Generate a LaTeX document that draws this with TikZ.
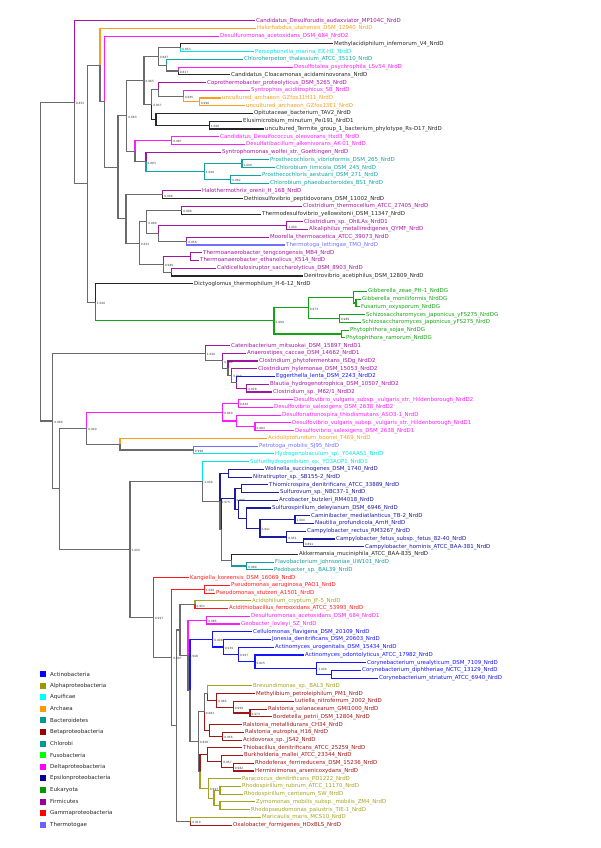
\documentclass[tikz,border=0pt]{standalone}
\usepackage{fontspec}
\setmainfont{DejaVu Sans}
\usetikzlibrary{calc}
\definecolor{cac}{HTML}{1414FF}
\definecolor{cal}{HTML}{A3A320}
\definecolor{caq}{HTML}{00E6E6}
\definecolor{car}{HTML}{FF9C1A}
\definecolor{cba}{HTML}{129C9C}
\definecolor{cbe}{HTML}{A31414}
\definecolor{cch}{HTML}{12A3A3}
\definecolor{cde}{HTML}{FF1AFF}
\definecolor{cep}{HTML}{1A1AA3}
\definecolor{ceu}{HTML}{14A314}
\definecolor{cfi}{HTML}{A314A3}
\definecolor{cga}{HTML}{FF1A1A}
\definecolor{cth}{HTML}{7070FF}
\definecolor{cbk}{HTML}{262626}
\definecolor{cmx}{HTML}{6A6A6A}
\tikzset{
  lbl/.style={anchor=west,inner xsep=1.5pt,inner ysep=0pt,font=\fontsize{5.45}{6}\selectfont},
  br/.style={line width=1.1pt,line cap=rect},
  bsl/.style={anchor=west,inner sep=0pt,font=\fontsize{2.9}{3}\selectfont,text=black!80},
  legsq/.style={minimum size=6pt,inner sep=0pt,draw=none},
  legtx/.style={anchor=west,inner sep=0pt,font=\fontsize{5.5}{6}\selectfont,text=black!85}
}
\newcommand\leafx[4]{%
  \coordinate (e#1) at ({#2-1.5},{20.7+(#1-1)*7.735});
  \node[lbl,text=#3] (l#1) at (e#1) {#4};}
\newcommand\tnode[6]{%
  \coordinate (m#1) at ($(#3)!0.5!(#4)$);
  \coordinate (x#1) at (#2,0);
  \coordinate (#1) at (x#1 |- m#1);
  \draw[br,#5] (#1) |- (#3);
  \draw[br,#6] (#1) |- (#4);}
\newcommand\bsv[2]{\node[bsl] at ([xshift=1.4pt,yshift=-1.3pt]#1) {#2};}
\begin{document}
\begin{tikzpicture}[x=1pt,y=-1pt]
\useasboundingbox (0,0) rectangle (600,848);
% leaves
\leafx{1}{256}{cfi}{Candidatus\_Desulforudis\_audaxviator\_MP104C\_NrdD}
\leafx{2}{257}{car}{Halorhabdus\_utahensis\_DSM\_12940\_NrdD}
\leafx{3}{220}{cde}{Desulfuromonas\_acetoxidans\_DSM\_684\_NrdD2}
\leafx{4}{334}{cbk}{Methylacidiphilum\_infernorum\_V4\_NrdD}
\leafx{5}{255}{caq}{Persephonella\_marina\_EX-H1\_NrdD}
\leafx{6}{244}{cch}{Chloroherpeton\_thalassium\_ATCC\_35110\_NrdD}
\leafx{7}{294}{cde}{Desulfotalea\_psychrophila\_LSv54\_NrdD}
\leafx{8}{231}{cbk}{Candidatus\_Cloacamonas\_acidaminovorans\_NrdD}
\leafx{9}{207}{cfi}{Coprothermobacter\_proteolyticus\_DSM\_5265\_NrdD}
\leafx{10}{251}{cde}{Syntrophus\_aciditrophicus\_SB\_NrdD}
\leafx{11}{222}{car}{uncultured\_archaeon\_GZfos11H11\_NrdD}
\leafx{12}{246}{car}{uncultured\_archaeon\_GZfos13E1\_NrdD}
\leafx{13}{254}{cbk}{Opitutaceae\_bacterium\_TAV2\_NrdD}
\leafx{14}{243}{cbk}{Elusimicrobium\_minutum\_Pei191\_NrdD1}
\leafx{15}{265}{cbk}{uncultured\_Termite\_group\_1\_bacterium\_phylotype\_Rs-D17\_NrdD}
\leafx{16}{220}{cde}{Candidatus\_Desulfococcus\_oleovorans\_Hxd3\_NrdD}
\leafx{17}{246}{cde}{Desulfatibacillum\_alkenivorans\_AK-01\_NrdD}
\leafx{18}{222}{cfi}{Syntrophomonas\_wolfei\_str.\_Goettingen\_NrdD}
\leafx{19}{270}{cch}{Prosthecochloris\_vibrioformis\_DSM\_265\_NrdD}
\leafx{20}{276}{cch}{Chlorobium\_limicola\_DSM\_245\_NrdD}
\leafx{21}{262}{cch}{Prosthecochloris\_aestuarii\_DSM\_271\_NrdD}
\leafx{22}{270}{cch}{Chlorobium\_phaeobacteroides\_BS1\_NrdD}
\leafx{23}{202}{cfi}{Halothermothrix\_orenii\_H\_168\_NrdD}
\leafx{24}{244}{cbk}{Dethiosulfovibrio\_peptidovorans\_DSM\_11002\_NrdD}
\leafx{25}{303}{cfi}{Clostridium\_thermocellum\_ATCC\_27405\_NrdD}
\leafx{26}{262}{cbk}{Thermodesulfovibrio\_yellowstonii\_DSM\_11347\_NrdD}
\leafx{27}{304}{cfi}{Clostridium\_sp.\_OhILAs\_NrdD1}
\leafx{28}{309}{cfi}{Alkaliphilus\_metalliredigenes\_QYMF\_NrdD}
\leafx{29}{270}{cfi}{Moorella\_thermoacetica\_ATCC\_39073\_NrdD}
\leafx{30}{286}{cth}{Thermotoga\_lettingae\_TMO\_NrdD}
\leafx{31}{203}{cfi}{Thermoanaerobacter\_tengcongensis\_MB4\_NrdD}
\leafx{32}{200}{cfi}{Thermoanaerobacter\_ethanolicus\_X514\_NrdD}
\leafx{33}{217}{cfi}{Caldicellulosiruptor\_saccharolyticus\_DSM\_8903\_NrdD}
\leafx{34}{304}{cbk}{Denitrovibrio\_acetiphilus\_DSM\_12809\_NrdD}
\leafx{35}{194}{cbk}{Dictyoglomus\_thermophilum\_H-6-12\_NrdD}
\leafx{36}{368}{ceu}{Gibberella\_zeae\_PH-1\_NrdDG}
\leafx{37}{362}{ceu}{Gibberella\_moniliformis\_NrdDG}
\leafx{38}{361}{ceu}{Fusarium\_oxysporum\_NrdDG}
\leafx{39}{366}{ceu}{Schizosaccharomyces\_japonicus\_yFS275\_NrdDG}
\leafx{40}{362}{ceu}{Schizosaccharomyces\_japonicus\_yFS275\_NrdD}
\leafx{41}{350}{ceu}{Phytophthora\_sojae\_NrdDG}
\leafx{42}{346}{ceu}{Phytophthora\_ramorum\_NrdDG}
\leafx{43}{231}{cfi}{Catenibacterium\_mitsuokai\_DSM\_15897\_NrdD1}
\leafx{44}{247}{cfi}{Anaerostipes\_caccae\_DSM\_14662\_NrdD1}
\leafx{45}{259}{cfi}{Clostridium\_phytofermentans\_ISDg\_NrdD2}
\leafx{46}{258}{cfi}{Clostridium\_hylemonae\_DSM\_15053\_NrdD2}
\leafx{47}{276}{cac}{Eggerthella\_lenta\_DSM\_2243\_NrdD2}
\leafx{48}{270}{cfi}{Blautia\_hydrogenotrophica\_DSM\_10507\_NrdD2}
\leafx{49}{273}{cfi}{Clostridium\_sp.\_M62/1\_NrdD2}
\leafx{50}{294}{cde}{Desulfovibrio\_vulgaris\_subsp.\_vulgaris\_str.\_Hildenborough\_NrdD2}
\leafx{51}{274}{cde}{Desulfovibrio\_salexigens\_DSM\_2638\_NrdD2}
\leafx{52}{282}{cde}{Desulfonatronospira\_thiodismutans\_ASO3-1\_NrdD}
\leafx{53}{292}{cde}{Desulfovibrio\_vulgaris\_subsp.\_vulgaris\_str.\_Hildenborough\_NrdD1}
\leafx{54}{295}{cde}{Desulfovibrio\_salexigens\_DSM\_2638\_NrdD1}
\leafx{55}{268}{car}{Aciduliprofundum\_boonei\_T469\_NrdD}
\leafx{56}{259}{cth}{Petrotoga\_mobilis\_SJ95\_NrdD}
\leafx{57}{275}{caq}{Hydrogenobaculum\_sp.\_Y04AAS1\_NrdD}
\leafx{58}{250}{caq}{Sulfurihydrogenibium\_sp.\_YO3AOP1\_NrdD1}
\leafx{59}{265}{cep}{Wolinella\_succinogenes\_DSM\_1740\_NrdD}
\leafx{60}{253}{cep}{Nitratiruptor\_sp.\_SB155-2\_NrdD}
\leafx{61}{269}{cep}{Thiomicrospira\_denitrificans\_ATCC\_33889\_NrdD}
\leafx{62}{280}{cep}{Sulfurovum\_sp.\_NBC37-1\_NrdD}
\leafx{63}{279}{cep}{Arcobacter\_butzleri\_RM4018\_NrdD}
\leafx{64}{272}{cep}{Sulfurospirillum\_deleyianum\_DSM\_6946\_NrdD}
\leafx{65}{311}{cep}{Caminibacter\_mediatlanticus\_TB-2\_NrdD}
\leafx{66}{315}{cep}{Nautilia\_profundicola\_AmH\_NrdD}
\leafx{67}{307}{cep}{Campylobacter\_rectus\_RM3267\_NrdD}
\leafx{68}{336}{cep}{Campylobacter\_fetus\_subsp.\_fetus\_82-40\_NrdD}
\leafx{69}{365}{cep}{Campylobacter\_hominis\_ATCC\_BAA-381\_NrdD}
\leafx{70}{299}{cbk}{Akkermansia\_muciniphila\_ATCC\_BAA-835\_NrdD}
\leafx{71}{275}{cba}{Flavobacterium\_johnsoniae\_UW101\_NrdD}
\leafx{72}{274}{cba}{Pedobacter\_sp.\_BAL39\_NrdD}
\leafx{73}{190}{cga}{Kangiella\_koreensis\_DSM\_16069\_NrdD}
\leafx{74}{231}{cga}{Pseudomonas\_aeruginosa\_PAO1\_NrdD}
\leafx{75}{216}{cga}{Pseudomonas\_stutzeri\_A1501\_NrdD}
\leafx{76}{252}{cal}{Acidiphilium\_cryptum\_JF-5\_NrdD}
\leafx{77}{229}{cga}{Acidithiobacillus\_ferrooxidans\_ATCC\_53993\_NrdD}
\leafx{78}{251}{cde}{Desulfuromonas\_acetoxidans\_DSM\_684\_NrdD1}
\leafx{79}{241}{cde}{Geobacter\_lovleyi\_SZ\_NrdD}
\leafx{80}{253}{cac}{Cellulomonas\_flavigena\_DSM\_20109\_NrdD}
\leafx{81}{272}{cac}{Jonesia\_denitrificans\_DSM\_20603\_NrdD}
\leafx{82}{275}{cac}{Actinomyces\_urogenitalis\_DSM\_15434\_NrdD}
\leafx{83}{305}{cac}{Actinomyces\_odontolyticus\_ATCC\_17982\_NrdD}
\leafx{84}{367}{cac}{Corynebacterium\_urealyticum\_DSM\_7109\_NrdD}
\leafx{85}{362}{cac}{Corynebacterium\_diphtheriae\_NCTC\_13129\_NrdD}
\leafx{86}{379}{cac}{Corynebacterium\_striatum\_ATCC\_6940\_NrdD}
\leafx{87}{253}{cal}{Brevundimonas\_sp.\_BAL3\_NrdD}
\leafx{88}{256}{cbe}{Methylibium\_petroleiphilum\_PM1\_NrdD}
\leafx{89}{295}{cbe}{Lutiella\_nitroferrum\_2002\_NrdD}
\leafx{90}{268}{cbe}{Ralstonia\_solanacearum\_GMI1000\_NrdD}
\leafx{91}{273}{cbe}{Bordetella\_petrii\_DSM\_12804\_NrdD}
\leafx{92}{243}{cbe}{Ralstonia\_metallidurans\_CH34\_NrdD}
\leafx{93}{245}{cbe}{Ralstonia\_eutropha\_H16\_NrdD}
\leafx{94}{243}{cbe}{Acidovorax\_sp.\_JS42\_NrdD}
\leafx{95}{243}{cbe}{Thiobacillus\_denitrificans\_ATCC\_25259\_NrdD}
\leafx{96}{244}{cbe}{Burkholderia\_mallei\_ATCC\_23344\_NrdD}
\leafx{97}{255}{cbe}{Rhodoferax\_ferrireducens\_DSM\_15236\_NrdD}
\leafx{98}{255}{cbe}{Herminiimonas\_arsenicoxydans\_NrdD}
\leafx{99}{242}{cal}{Paracoccus\_denitrificans\_PD1222\_NrdD}
\leafx{100}{242}{cal}{Rhodospirillum\_rubrum\_ATCC\_11170\_NrdD}
\leafx{101}{244}{cal}{Rhodospirillum\_centenum\_SW\_NrdD}
\leafx{102}{256}{cal}{Zymomonas\_mobilis\_subsp.\_mobilis\_ZM4\_NrdD}
\leafx{103}{251}{cal}{Rhodopseudomonas\_palustris\_TIE-1\_NrdD}
\leafx{104}{262}{cal}{Maricaulis\_maris\_MCS10\_NrdD}
\leafx{105}{233}{cbe}{Oxalobacter\_formigenes\_HOxBLS\_NrdD}
% internal nodes: name, x, child1, child2, colour1, colour2
\tnode{n1}{180.7}{e4}{e5}{cbk}{caq}
\tnode{n2}{178.3}{e7}{e8}{cde}{cbk}
\tnode{n3}{166.7}{e6}{n2}{cch}{cmx}
\tnode{n4}{158.3}{n1}{n3}{cmx}{cmx}
\tnode{n5}{199.3}{e11}{e12}{car}{car}
\tnode{n6}{183.3}{e10}{n5}{cde}{car}
\tnode{n7}{158.3}{e9}{n6}{cfi}{cmx}
\tnode{n8}{209.3}{e14}{e15}{cbk}{cbk}
\tnode{n9}{156}{e13}{n8}{cbk}{cbk}
\tnode{n10}{151.7}{n7}{n9}{cmx}{cbk}
\tnode{n11}{144}{n4}{n10}{cmx}{cmx}
\tnode{n12}{171.7}{e16}{e17}{cde}{cde}
\tnode{n13}{242}{e19}{e20}{cch}{cch}
\tnode{n14}{230.7}{e21}{e22}{cch}{cch}
\tnode{n15}{204.3}{n13}{n14}{cch}{cch}
\tnode{n16}{146}{e18}{n15}{cfi}{cch}
\tnode{n17}{135}{n12}{n16}{cde}{cmx}
\tnode{n18}{126.7}{n11}{n17}{cmx}{cmx}
\tnode{n19}{162.7}{e23}{e24}{cfi}{cbk}
\tnode{n20}{181.7}{e25}{e26}{cfi}{cbk}
\tnode{n21}{286.7}{e27}{e28}{cfi}{cfi}
\tnode{n22}{186.7}{e29}{e30}{cfi}{cth}
\tnode{n23}{158.3}{n21}{n22}{cfi}{cmx}
\tnode{n24}{146.7}{n20}{n23}{cmx}{cmx}
\tnode{n25}{190.7}{e31}{e32}{cfi}{cfi}
\tnode{n26}{171.7}{e33}{e34}{cfi}{cbk}
\tnode{n27}{163.3}{n25}{n26}{cfi}{cmx}
\tnode{n28}{139.3}{n24}{n27}{cmx}{cmx}
\tnode{n29}{126}{n19}{n28}{cmx}{cmx}
\tnode{n30}{118}{n18}{n29}{cmx}{cmx}
\tnode{n31}{104.3}{e3}{n30}{cde}{cmx}
\tnode{n32}{100}{e2}{n31}{car}{cmx}
\tnode{n33}{356}{e37}{e38}{ceu}{ceu}
\tnode{n34}{353.3}{e36}{n33}{ceu}{ceu}
\tnode{n35}{339.3}{e39}{e40}{ceu}{ceu}
\tnode{n36}{308.3}{n34}{n35}{ceu}{ceu}
\tnode{n37}{341.7}{e41}{e42}{ceu}{ceu}
\tnode{n38}{274}{n36}{n37}{ceu}{ceu}
\tnode{n39}{95.3}{e35}{n38}{cbk}{ceu}
\tnode{n40}{87.7}{n32}{n39}{cmx}{cmx}
\tnode{n41}{74.3}{e1}{n40}{cfi}{cmx}
\tnode{n42}{246.7}{e48}{e49}{cfi}{cfi}
\tnode{n43}{236.7}{e47}{n42}{cac}{cfi}
\tnode{n44}{231.7}{e46}{n43}{cfi}{cmx}
\tnode{n45}{228}{e45}{n44}{cfi}{cmx}
\tnode{n46}{222.7}{e44}{n45}{cfi}{cmx}
\tnode{n47}{205.3}{e43}{n46}{cfi}{cmx}
\tnode{n48}{238.3}{e50}{e51}{cde}{cde}
\tnode{n49}{255}{e53}{e54}{cde}{cde}
\tnode{n50}{236.7}{e52}{n49}{cde}{cde}
\tnode{n51}{222.7}{n48}{n50}{cde}{cde}
\tnode{n52}{193.3}{e56}{e57}{cth}{caq}
\tnode{n53}{120}{e55}{n52}{car}{cmx}
\tnode{n54}{86.7}{n51}{n53}{cde}{cmx}
\tnode{n55}{228.3}{e59}{e60}{cep}{cep}
\tnode{n56}{241.7}{e61}{e62}{cep}{cep}
\tnode{n57}{295}{e65}{e66}{cep}{cep}
\tnode{n58}{303.3}{e68}{e69}{cep}{cep}
\tnode{n59}{286.7}{e67}{n58}{cep}{cep}
\tnode{n60}{260}{n57}{n59}{cep}{cep}
\tnode{n61}{246.7}{e64}{n60}{cep}{cep}
\tnode{n62}{238.3}{e63}{n61}{cep}{cep}
\tnode{n63}{235}{n56}{n62}{cep}{cep}
\tnode{n64}{246.7}{e71}{e72}{cba}{cba}
\tnode{n65}{231.7}{e70}{n64}{cbk}{cba}
\tnode{n66}{221.7}{n63}{n65}{cep}{cmx}
\tnode{n67}{220}{n55}{n66}{cep}{cmx}
\tnode{n68}{202.7}{e58}{n67}{caq}{cmx}
\tnode{n69}{204.3}{e74}{e75}{cga}{cga}
\tnode{n70}{195}{e76}{e77}{cal}{cga}
\tnode{n71}{206.7}{e78}{e79}{cde}{cde}
\tnode{n72}{331.7}{e85}{e86}{cac}{cac}
\tnode{n73}{316.7}{e84}{n72}{cac}{cac}
\tnode{n74}{255}{e83}{n73}{cac}{cac}
\tnode{n75}{238.3}{e82}{n74}{cac}{cac}
\tnode{n76}{223.3}{e81}{n75}{cac}{cac}
\tnode{n77}{212.7}{e80}{n76}{cac}{cac}
\tnode{n78}{250}{e90}{e91}{cbe}{cbe}
\tnode{n79}{233.3}{e89}{n78}{cbe}{cbe}
\tnode{n80}{216.7}{e88}{n79}{cbe}{cbe}
\tnode{n81}{207.3}{e87}{n80}{cal}{cbe}
\tnode{n82}{222.7}{e93}{e94}{cbe}{cbe}
\tnode{n83}{209.3}{e92}{n82}{cbe}{cbe}
\tnode{n84}{204.3}{n81}{n83}{cmx}{cbe}
\tnode{n85}{233.3}{e97}{e98}{cbe}{cbe}
\tnode{n86}{221.7}{e96}{n85}{cbe}{cbe}
\tnode{n87}{207.3}{e95}{n86}{cbe}{cbe}
\tnode{n88}{220}{e100}{e101}{cal}{cal}
\tnode{n89}{220}{e102}{e103}{cal}{cal}
\tnode{n90}{214}{n88}{n89}{cal}{cal}
\tnode{n91}{208.3}{e99}{n90}{cal}{cal}
\tnode{n92}{200}{n87}{n91}{cbe}{cal}
\tnode{n93}{198.3}{n84}{n92}{cmx}{cmx}
\tnode{n94}{190}{n77}{n93}{cac}{cmx}
\tnode{n95}{188}{n71}{n94}{cde}{cmx}
\tnode{n96}{180}{n70}{n95}{cmx}{cmx}
\tnode{n97}{190.7}{e104}{e105}{cal}{cbe}
\tnode{n98}{176.7}{n96}{n97}{cmx}{cmx}
\tnode{n99}{171.7}{n69}{n98}{cga}{cmx}
\tnode{n100}{153.3}{e73}{n99}{cga}{cmx}
\tnode{n101}{130}{n68}{n100}{cmx}{cmx}
\tnode{n102}{59.3}{n54}{n101}{cmx}{cmx}
\tnode{n103}{52.7}{n47}{n102}{cmx}{cmx}
\tnode{root}{40.7}{n41}{n103}{cmx}{cmx}
% support values
\bsv{n1}{0.853}\bsv{n2}{0.817}\bsv{n4}{0.887}\bsv{n5}{0.990}\bsv{n6}{0.985}
\bsv{n8}{1.000}\bsv{n10}{0.857}\bsv{n11}{0.965}\bsv{n12}{0.987}\bsv{n13}{1.000}
\bsv{n14}{0.982}\bsv{n15}{1.000}\bsv{n16}{0.883}\bsv{n18}{0.683}\bsv{n19}{0.996}
\bsv{n20}{0.996}\bsv{n21}{1.000}\bsv{n22}{0.956}\bsv{n24}{0.880}\bsv{n27}{0.989}
\bsv{n28}{0.653}\bsv{n35}{0.989}\bsv{n36}{0.973}\bsv{n38}{0.999}\bsv{n39}{1.000}
\bsv{n41}{0.852}\bsv{n42}{0.828}\bsv{n44}{0.949}\bsv{n46}{0.888}\bsv{n47}{1.000}
\bsv{n48}{0.844}\bsv{n49}{0.984}\bsv{n51}{0.860}\bsv{n52}{0.999}\bsv{n54}{0.940}
\bsv{n57}{1.000}\bsv{n58}{0.891}\bsv{n59}{0.951}\bsv{n60}{0.941}\bsv{n63}{0.995}
\bsv{n64}{0.989}\bsv{n67}{0.975}\bsv{n68}{1.000}\bsv{n69}{1.000}\bsv{n70}{0.951}
\bsv{n71}{0.985}\bsv{n73}{1.000}\bsv{n74}{0.825}\bsv{n75}{0.967}\bsv{n76}{0.939}
\bsv{n77}{0.998}\bsv{n78}{0.973}\bsv{n79}{0.969}\bsv{n80}{0.965}\bsv{n82}{0.956}
\bsv{n84}{0.881}\bsv{n85}{0.982}\bsv{n86}{0.957}\bsv{n91}{0.997}\bsv{n93}{0.858}
\bsv{n95}{0.948}\bsv{n97}{0.919}\bsv{n99}{0.997}\bsv{n100}{0.997}\bsv{n101}{1.000}
\bsv{n103}{0.989}
% legend
\foreach \nm/\cl [count=\i from 0] in {Actinobacteria/{0000FF},Alphaproteobacteria/{999900},Aquificae/{00FFFF},Archaea/{FF9900},Bacteroidetes/{009999},Betaproteobacteria/{990000},Chlorobi/{009999},Fusobacteria/{00FF00},Deltaproteobacteria/{FF00FF},Epsilonproteobacteria/{000099},Eukaryota/{009900},Firmicutes/{990099},Gammaproteobacteria/{FF0000},Thermotogae/{6666FF}}{
  \definecolor{lg}{HTML}{\cl}
  \node[legsq,fill=lg] (sq\i) at (43,{674+\i*11.6}) {};
  \node[legtx] (lt\i) at (50,{674+\i*11.6}) {\nm};
}
\end{tikzpicture}
\end{document}
